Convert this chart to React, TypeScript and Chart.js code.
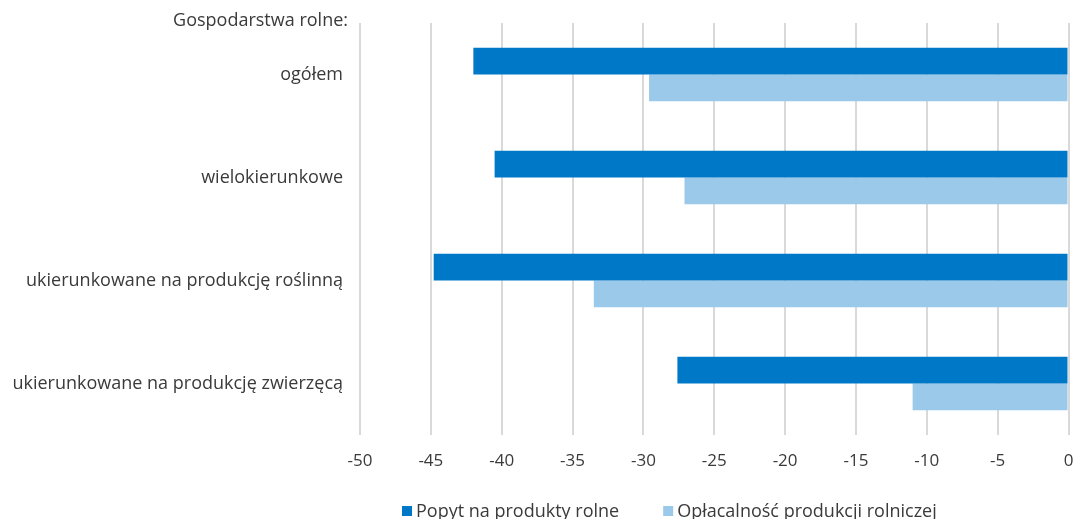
import React, { useEffect, useRef } from 'react';
import { Chart, registerables } from 'chart.js';

Chart.register(...registerables);

const groupLabel = 'Gospodarstwa rolne:';
const categories = [
  'ogółem',
  'wielokierunkowe',
  'ukierunkowane na produkcję roślinną',
  'ukierunkowane na produkcję zwierzęcą',
];
const seriesNames = ['Popyt na produkty rolne', 'Opłacalność produkcji rolniczej'];
const popytValues = [-42.0, -40.5, -44.8, -27.6];
const oplacalnoscValues = [-29.6, -27.1, -33.5, -11.0];
const xMin = -50;
const xMax = 0;
const xStep = 5;

const FONT = '"Open Sans", sans-serif';
const LABEL_SIZE = 18;
const TICK_SIZE = 17;
const TEXT = '#3a3a3a';
const DARK = '#0078c8';
const LIGHT = '#9bc9ea';
const GRID = '#d9d9d9';

const extrasPlugin = {
  id: 'extras',
  afterDraw(chart: any) {
    const { ctx } = chart;
    const yScale = chart.scales.y;
    ctx.save();
    ctx.font = `${LABEL_SIZE}px ${FONT}`;
    ctx.fillStyle = TEXT;
    ctx.textAlign = 'right';
    ctx.textBaseline = 'middle';
    ctx.fillText(groupLabel, yScale.right - 12, 21);

    ctx.textAlign = 'left';
    let x = 402;
    const y = 511;
    chart.data.datasets.forEach((ds: any) => {
      ctx.fillStyle = ds.backgroundColor;
      ctx.fillRect(x, y - 5, 10, 10);
      ctx.fillStyle = TEXT;
      ctx.fillText(ds.label, x + 14, y + 1);
      x += 14 + ctx.measureText(ds.label).width + 44;
    });
    ctx.restore();
  },
};

export default function App() {
  const canvasRef = useRef<HTMLCanvasElement | null>(null);

  useEffect(() => {
    if (!canvasRef.current) return;
    const chart = new Chart(canvasRef.current, {
      type: 'bar',
      data: {
        labels: categories,
        datasets: [
          {
            label: seriesNames[0],
            data: popytValues,
            backgroundColor: DARK,
            categoryPercentage: 0.52,
            barPercentage: 1,
          },
          {
            label: seriesNames[1],
            data: oplacalnoscValues,
            backgroundColor: LIGHT,
            categoryPercentage: 0.52,
            barPercentage: 1,
          },
        ],
      },
      options: {
        indexAxis: 'y',
        animation: false,
        responsive: false,
        devicePixelRatio: 1,
        layout: { autoPadding: false, padding: { top: 23, left: 0, right: 4.5, bottom: 0 } },
        plugins: {
          legend: { display: false },
          tooltip: { enabled: false },
          title: { display: false },
        },
        scales: {
          x: {
            min: xMin,
            max: xMax,
            ticks: {
              stepSize: xStep,
              padding: 16,
              color: TEXT,
              font: { family: FONT, size: TICK_SIZE },
            },
            grid: { color: GRID, lineWidth: 2, drawTicks: false },
            border: { display: false },
            afterFit: (scale: any) => {
              scale.height = 84;
              scale.paddingLeft = 0;
              scale.paddingRight = 0;
            },
          },
          y: {
            ticks: {
              padding: 17,
              color: TEXT,
              font: { family: FONT, size: LABEL_SIZE },
            },
            grid: { display: false, drawTicks: false },
            border: { display: false },
            afterFit: (scale: any) => {
              scale.width = 360;
              scale.paddingTop = 0;
              scale.paddingBottom = 0;
            },
          },
        },
      },
      plugins: [extrasPlugin],
    });
    return () => chart.destroy();
  }, []);

  return (
    <div
      style={{
        position: 'fixed',
        left: 0,
        top: 0,
        width: 1073,
        height: 519,
        overflow: 'hidden',
        background: '#fff',
      }}
    >
      <canvas ref={canvasRef} width={1073} height={519} style={{ display: 'block' }} />
    </div>
  );
}
